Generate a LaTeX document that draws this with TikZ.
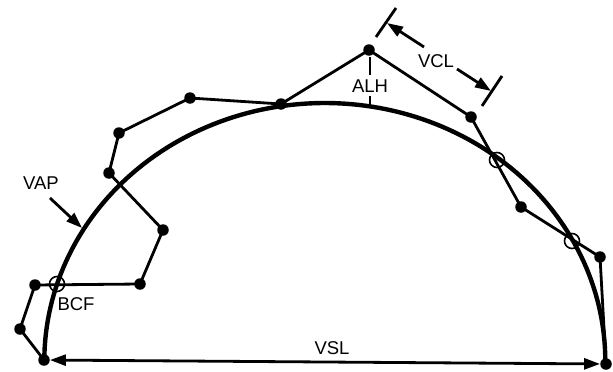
\documentclass[tikz,border=0pt]{standalone}
\usepackage{fontspec}
\setmainfont{Liberation Sans}
\usetikzlibrary{arrows.meta}
\begin{document}
\begin{tikzpicture}[x=1pt,y=-1pt,
  dot/.style={circle,fill=black,inner sep=0pt,minimum size=11.5pt},
  ring/.style={circle,draw=black,line width=1.6pt,inner sep=0pt,minimum size=15pt},
  poly/.style={line width=2.8pt,line join=round},
  dim/.style={line width=2.8pt},
  tip/.style={-{Triangle[length=16pt,width=11pt]}},
  lbl/.style={font=\fontsize{18.5}{22}\selectfont,inner sep=0pt}]
\useasboundingbox (0,0) rectangle (613,372);
% main arc (VAP)
\draw[line width=4.4pt] plot[domain=180:0,samples=120] ({324.8+280.5*cos(\x)},{361-258*sin(\x)});
% vertices
\node[dot] (p1) at (44,360) {};
\node[dot] (p2) at (20,329) {};
\node[dot] (p3) at (35,285) {};
\node[dot] (p4) at (140,284) {};
\node[dot] (p5) at (163,230) {};
\node[dot] (p6) at (109,173) {};
\node[dot] (p7) at (119,133) {};
\node[dot] (p8) at (190,98) {};
\node[dot] (p9) at (281,104) {};
\node[dot] (p10) at (369,50) {};
\node[dot] (p11) at (471,117) {};
\node[dot] (p12) at (521,207) {};
\node[dot] (p13) at (600,257) {};
\node[dot] (p14) at (606,364) {};
% polygon
\draw[poly] (p1.center) -- (p2.center) -- (p3.center) -- (p4.center) -- (p5.center) -- (p6.center) -- (p7.center) -- (p8.center) -- (p9.center) -- (p10.center) -- (p11.center) -- (p12.center) -- (p13.center) -- (p14.center);
% crossing rings
\node[ring] (c1) at (57,284) {};
\node[ring] (c2) at (497,160) {};
\node[ring] (c3) at (572,241) {};
% VSL
\draw[dim,{Triangle[length=16pt,width=11pt]}-{Triangle[length=16pt,width=11pt]}] (p1) -- (p14);
\node[lbl] (vsl) at (332,348) {VSL};
% VAP
\node[lbl] (vap) at (41,183) {VAP};
\coordinate (vapa) at (50,198);
\coordinate (vapb) at (82,228);
\draw[dim,tip] (vapa) -- (vapb);
% BCF
\node[lbl] (bcf) at (76,304) {BCF};
% ALH
\node[lbl] (alh) at (370,86) {ALH};
\coordinate (alh1) at (370,57);
\coordinate (alh2) at (370,75);
\coordinate (alh3) at (370,96);
\coordinate (alh4) at (370,107);
\draw[dim] (alh1) -- (alh2);
\draw[dim] (alh3) -- (alh4);
% VCL
\coordinate (t1a) at (376,37);
\coordinate (t1b) at (396,8);
\coordinate (t2a) at (482,106);
\coordinate (t2b) at (502,76);
\draw[dim] (t1a) -- (t1b);
\draw[dim] (t2a) -- (t2b);
\coordinate (v1s) at (424,47);
\coordinate (v1e) at (387,23);
\coordinate (v2s) at (457,69);
\coordinate (v2e) at (491,91);
\draw[dim,tip] (v1s) -- (v1e);
\draw[dim,tip] (v2s) -- (v2e);
\node[lbl] (vcl) at (436,61) {VCL};
\end{tikzpicture}
\end{document}
